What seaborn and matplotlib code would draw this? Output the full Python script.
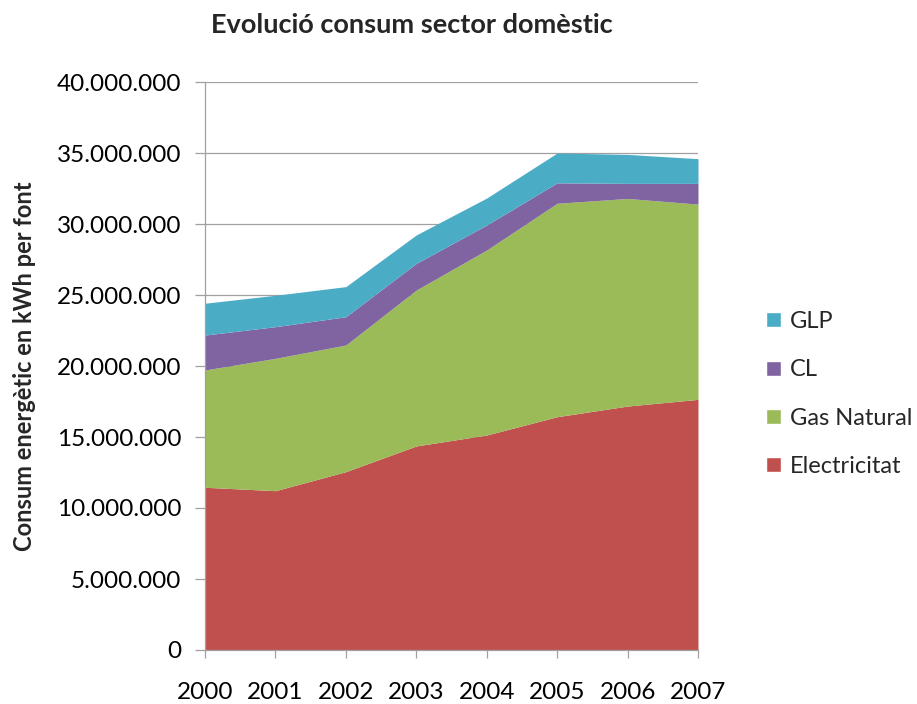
import matplotlib
matplotlib.use("Agg")
import matplotlib.pyplot as plt
from matplotlib.ticker import FuncFormatter, MultipleLocator
from matplotlib.patches import Patch
import seaborn as sns

# Consum energètic del sector domèstic (kWh)
anys = [2000, 2001, 2002, 2003, 2004, 2005, 2006, 2007]
electricitat = [11460000, 11220000, 12560000, 14370000, 15140000, 16430000, 17180000, 17650000]
gas_natural = [8260000, 9320000, 8920000, 10980000, 13030000, 15030000, 14620000, 13750000]
cl = [2460000, 2230000, 1990000, 1880000, 1760000, 1440000, 1060000, 1460000]
glp = [2240000, 2210000, 2120000, 2000000, 1900000, 2100000, 2040000, 1740000]

series = ["Electricitat", "Gas Natural", "CL", "GLP"]
colors = ["#C0504D", "#9BBB59", "#8064A2", "#4BACC6"]

sns.set_style("white")
plt.rcParams["font.family"] = ["Lato", "DejaVu Sans"]

fig = plt.figure(figsize=(9.17, 7.04), dpi=100)
ax = fig.add_axes([205 / 917, 1 - 650 / 704, (698 - 205) / 917, (650 - 82) / 704])

ax.stackplot(anys, electricitat, gas_natural, cl, glp, colors=colors, linewidth=0, zorder=2)

ax.set_xlim(2000, 2007)
ax.set_ylim(0, 40000000)
ax.yaxis.set_major_locator(MultipleLocator(5000000))
ax.set_xticks(anys)
ax.yaxis.set_major_formatter(FuncFormatter(lambda v, p: f"{int(v):,}".replace(",", ".")))

ax.grid(axis="y", color="#A0A0A0", linewidth=0.9, zorder=1)
ax.grid(axis="x", visible=False)
ax.set_axisbelow(True)
sns.despine(ax=ax, top=True, right=True)
for side in ("left", "bottom"):
    ax.spines[side].set_color("#A0A0A0")
    ax.spines[side].set_linewidth(0.9)
ax.tick_params(axis="both", which="both", direction="out", width=0.9,
               color="#A0A0A0", labelsize=17.5, labelcolor="#000000")
ax.tick_params(axis="y", length=7, pad=10)
ax.tick_params(axis="x", length=6, pad=17)
ax.tick_params(left=True, bottom=True)

ax.set_ylabel("Consum energètic en kWh per font", fontsize=17, fontweight="bold")
ax.yaxis.set_label_coords(-(205 - 36) / (698 - 205), 0.5)
fig.text(412 / 917, 1 - 25 / 704, "Evolució consum sector domèstic", ha="center", va="center",
         fontsize=19.5, fontweight="bold")

handles = [Patch(facecolor=c, label=s) for s, c in zip(series, colors)][::-1]
fig.legend(handles=handles, loc="center left", bbox_to_anchor=(757 / 917, 1 - 394 / 704),
           frameon=False, fontsize=17, handlelength=0.6, handleheight=0.6,
           labelspacing=1.15, handletextpad=0.4, borderaxespad=0)

fig.savefig("out.png", dpi=100)
